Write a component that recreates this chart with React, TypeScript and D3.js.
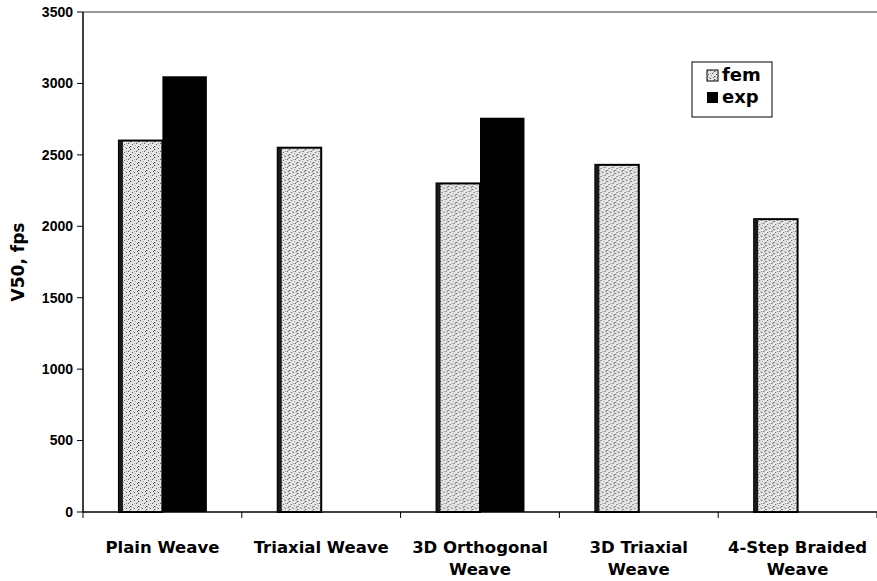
import * as d3 from 'd3';

const categories = ['Plain Weave', 'Triaxial Weave', '3D Orthogonal Weave', '3D Triaxial Weave', '4-Step Braided Weave'];
const labelLines = [['Plain Weave'], ['Triaxial Weave'], ['3D Orthogonal', 'Weave'], ['3D Triaxial', 'Weave'], ['4-Step Braided', 'Weave']];
const series = ['fem', 'exp'];
const femValues = [2600, 2550, 2300, 2430, 2050];
const expValues: (number | null)[] = [3050, null, 2760, null, null];
const yTicks = [0, 500, 1000, 1500, 2000, 2500, 3000, 3500];

const W = 877;
const H = 581;
const margin = { top: 12, right: 0, bottom: 69, left: 83 };

// stipple texture dots inside an 8x8 tile
const dots = [
  [0, 1], [3, 0], [6, 2], [1, 4], [4, 5], [7, 6], [2, 7], [5, 3], [0, 6], [6, 7], [3, 3], [7, 1],
];

export default function App() {
  const innerW = W - margin.left - margin.right;
  const innerH = H - margin.top - margin.bottom;

  const x0 = d3.scaleBand<string>().domain(categories).range([0, innerW]).padding(0);
  const bw = x0.bandwidth();
  const x1 = d3.scaleBand<string>().domain(series).range([bw * 0.22, bw * 0.78]).padding(0);
  const y = d3.scaleLinear().domain([0, 3500]).range([innerH, 0]);

  const font = '"DejaVu Sans", sans-serif';
  const tickFont = '"Liberation Sans", Arial, sans-serif';

  return (
    <svg width={W} height={H} style={{ position: 'absolute', left: 0, top: 0, background: '#fff' }}>
      <defs>
        <pattern id="stipple" width={8} height={8} patternUnits="userSpaceOnUse">
          <rect width={8} height={8} fill="#e6e6e6" />
          {dots.map(([dx, dy], i) => (
            <rect key={i} x={dx} y={dy} width={1} height={1} fill={i % 2 ? '#555' : '#999'} />
          ))}
        </pattern>
      </defs>
      <g transform={`translate(${margin.left},${margin.top})`}>
        {/* top frame line */}
        <line x1={0} x2={innerW} y1={0} y2={0} stroke="#333" strokeWidth={1} />

        {/* bars */}
        {categories.map((c, i) => (
          <g key={c} transform={`translate(${x0(c)},0)`}>
            <rect
              x={x1('fem')! + 1}
              y={y(femValues[i])}
              width={x1.bandwidth() - 1}
              height={innerH - y(femValues[i])}
              fill="url(#stipple)"
              stroke="#000"
              strokeWidth={2}
            />
            <rect
              x={x1('fem')! + 1}
              y={y(femValues[i])}
              width={4}
              height={innerH - y(femValues[i])}
              fill="#1a1a1a"
            />
            {expValues[i] !== null && (
              <rect
                x={x1('exp')!}
                y={y(expValues[i] as number)}
                width={x1.bandwidth()}
                height={innerH - y(expValues[i] as number)}
                fill="#000"
              />
            )}
          </g>
        ))}

        {/* y axis */}
        <line x1={0} x2={0} y1={0} y2={innerH} stroke="#000" strokeWidth={1.5} />
        {yTicks.map(t => (
          <g key={t} transform={`translate(0,${y(t)})`}>
            <line x1={-6} x2={0} stroke="#000" />
            <text x={-10} dy="0.35em" textAnchor="end" fontFamily={tickFont} fontWeight="bold" fontSize={14}>
              {t}
            </text>
          </g>
        ))}

        {/* x axis */}
        <line x1={0} x2={innerW} y1={innerH} y2={innerH} stroke="#000" strokeWidth={1.5} />
        {[...categories.map(c => x0(c)!), innerW].map((px, i) => (
          <line key={i} x1={px} x2={px} y1={innerH} y2={innerH + 6} stroke="#000" />
        ))}
        {categories.map((c, i) => (
          <text
            key={c}
            x={x0(c)! + bw / 2}
            y={innerH + 41}
            textAnchor="middle"
            fontFamily={font}
            fontWeight="bold"
            fontSize={16.5}
          >
            {labelLines[i].map((ln, j) => (
              <tspan key={j} x={x0(c)! + bw / 2} dy={j === 0 ? 0 : 22}>
                {ln}
              </tspan>
            ))}
          </text>
        ))}

        {/* y label */}
        <text
          transform={`translate(${-59},${262 - margin.top}) rotate(-90)`}
          textAnchor="middle"
          fontFamily={font}
          fontWeight="bold"
          fontSize={17}
        >
          V50, fps
        </text>

        {/* legend */}
        <g transform={`translate(${692 - margin.left},${62 - margin.top})`}>
          <rect width={80} height={55} fill="#fff" stroke="#000" strokeWidth={1} />
          {series.map((s, i) => (
            <g key={s} transform={`translate(15,${8 + i * 22})`}>
              <rect width={11} height={11} fill={s === 'fem' ? 'url(#stipple)' : '#000'} stroke="#000" strokeWidth={s === 'fem' ? 1 : 0} />
              <text x={15} y={11} fontFamily={font} fontWeight="bold" fontSize={18}>
                {s}
              </text>
            </g>
          ))}
        </g>
      </g>
    </svg>
  );
}
